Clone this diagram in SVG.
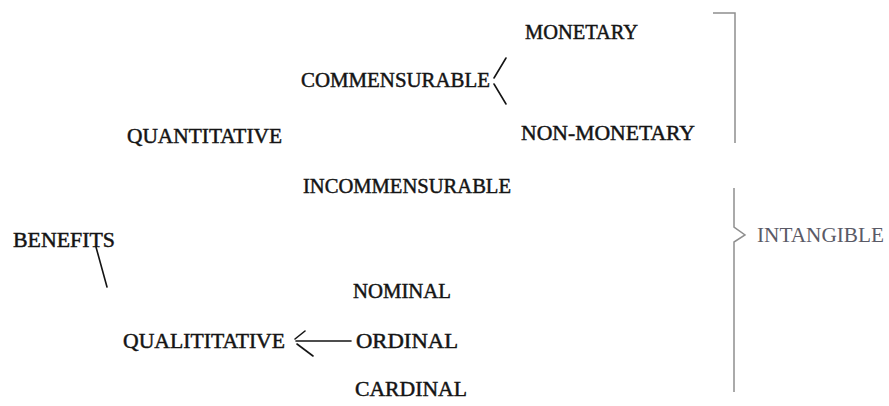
<svg xmlns="http://www.w3.org/2000/svg" width="889" height="406" viewBox="0 0 889 406">
<style>
.t{font-family:"Liberation Serif","Times New Roman",serif;font-size:20px;fill:#141414;stroke:#141414;stroke-width:0.45;}
.g{font-family:"Liberation Serif","Times New Roman",serif;font-size:20px;fill:#5a5a66;}
.c{stroke:#141414;stroke-width:1.6;fill:none;stroke-linecap:round;}
.b{stroke:#8f8f8f;stroke-width:1.5;fill:none;}
</style>
<rect width="889" height="406" fill="#fff"/>
<g id="monetary"><text class="t" x="525" y="39" textLength="113" lengthAdjust="spacingAndGlyphs">MONETARY</text></g>
<g id="commensurable"><text class="t" x="301" y="87" textLength="189" lengthAdjust="spacingAndGlyphs">COMMENSURABLE</text></g>
<g id="quantitative"><text class="t" x="127" y="143" textLength="155" lengthAdjust="spacingAndGlyphs">QUANTITATIVE</text></g>
<g id="non-monetary"><text class="t" x="521" y="140" textLength="174" lengthAdjust="spacingAndGlyphs">NON-MONETARY</text></g>
<g id="incommensurable"><text class="t" x="303" y="193" textLength="208" lengthAdjust="spacingAndGlyphs">INCOMMENSURABLE</text></g>
<g id="benefits"><text class="t" x="13" y="247" textLength="102" lengthAdjust="spacingAndGlyphs">BENEFITS</text></g>
<g id="nominal"><text class="t" x="353" y="298" textLength="98" lengthAdjust="spacingAndGlyphs">NOMINAL</text></g>
<g id="qualititative"><text class="t" x="123" y="348" textLength="162" lengthAdjust="spacingAndGlyphs">QUALITITATIVE</text></g>
<g id="ordinal"><text class="t" x="356" y="348" textLength="102" lengthAdjust="spacingAndGlyphs">ORDINAL</text></g>
<g id="cardinal"><text class="t" x="355" y="396" textLength="112" lengthAdjust="spacingAndGlyphs">CARDINAL</text></g>
<g id="intangible"><text class="g" x="757" y="242" textLength="127" lengthAdjust="spacingAndGlyphs">INTANGIBLE</text></g>
<g id="connectors">
<path class="c" d="M494 78 L506 58"/>
<path class="c" d="M494 84 L506 104"/>
<path class="c" d="M96 247 L107 287"/>
<path class="c" d="M296 341 L351 341"/>
<path class="c" d="M295 339 L305 331"/>
<path class="c" d="M297 344 L313 356"/>
<path class="b" d="M713 13 L735 13 L735 143"/>
<path class="b" d="M734 188 L734 227 L745 235 L734 242 L734 392"/>
</g>
</svg>
